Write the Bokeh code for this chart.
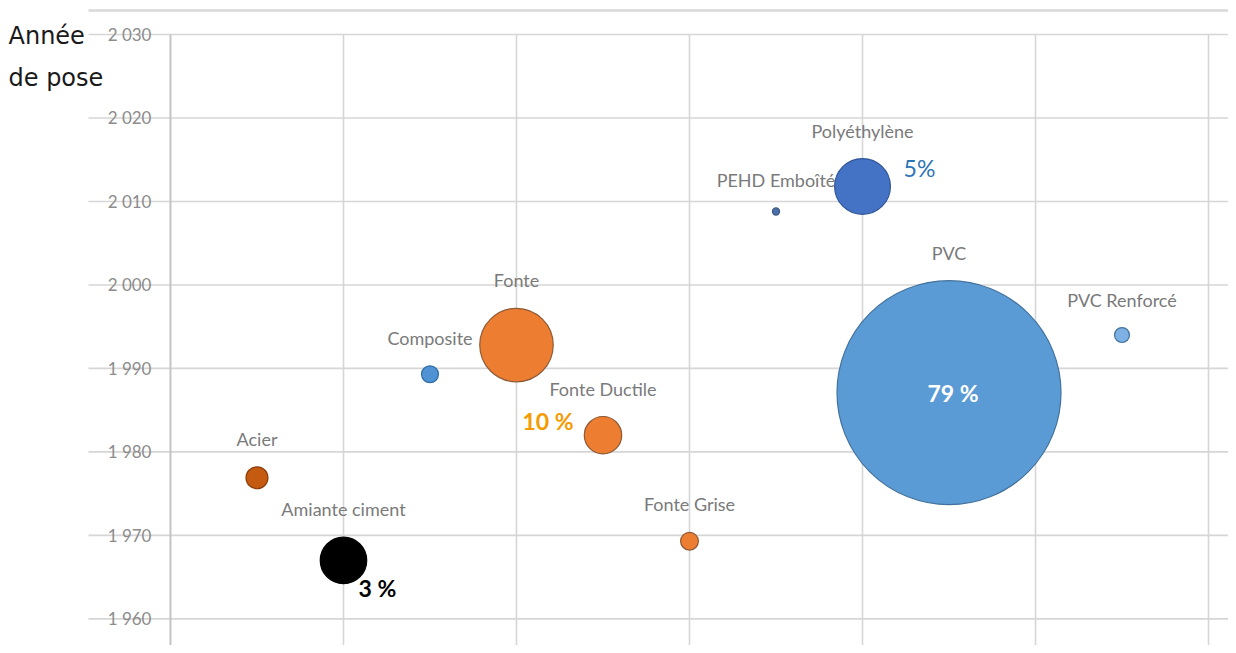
import math
from bokeh.plotting import figure
from bokeh.models import ColumnDataSource, Range1d
from bokeh.core.properties import value
from bokeh.embed import file_html
from bokeh.resources import INLINE

# ---------------- data ----------------
materials = ["Acier", "Amiante ciment", "Composite", "Fonte", "Fonte Ductile",
             "Fonte Grise", "PEHD Emboîté", "Polyéthylène", "PVC", "PVC Renforcé"]
x_index = [1, 2, 3, 4, 5, 6, 7, 8, 9, 11]
pose_year = [1976.9, 1967.0, 1989.3, 1992.8, 1982.0, 1969.3, 2008.8, 2011.8, 1987.1, 1994.0]
length_share = [0.76, 3.4, 0.45, 8.5, 2.2, 0.5, 0.08, 4.9, 79.0, 0.35]   # % of network length

y_ticks = [1960, 1970, 1980, 1990, 2000, 2010, 2020, 2030]
y_tick_labels = ["1 960", "1 970", "1 980", "1 990", "2 000", "2 010", "2 020", "2 030"]
x_grid = [0, 2, 4, 6, 8, 10, 12]

annot_material = ["PVC", "Fonte Ductile", "Amiante ciment", "Polyéthylène"]
annot_text = ["79 %", "10 %", "3 %", "5%"]

title_lines = ["Année", "de pose"]

# ---------------- styles ----------------
fill_colors = ["#C55A11", "#000000", "#4F93D5", "#ED7D31", "#ED7D31",
               "#ED7D31", "#4D6FA8", "#4472C4", "#5B9BD5", "#7DB0E3"]
line_colors = ["#8B3E0B", "#000000", "#2E6DA4", "#8E5A36", "#8E5A36",
               "#8E5A36", "#3A5685", "#2F5597", "#41719C", "#41719C"]
annot_colors = ["#FFFFFF", "#F59B00", "#000000", "#2E75B6"]
annot_styles = ["bold", "bold", "bold", "normal"]
annot_dx = [4, -55, 34, 57]
annot_dy = [0, -14, 28, -18]

X0, X1 = -1.965, 12.231
Y0, Y1 = 1956.81, 2034.07
GRID_LEFT = -0.948
TOP_LINE = 2032.87

MAX_R = 112.0
radius_px = [MAX_R * math.sqrt(s / max(length_share)) for s in length_share]

src = ColumnDataSource(dict(
    x=x_index, y=pose_year, name=materials,
    size=[2 * r for r in radius_px],
    fill=fill_colors, line=line_colors,
    label_dy=[-(r + 28) for r in radius_px],
))

idx = [materials.index(m) for m in annot_material]
asrc = ColumnDataSource(dict(
    x=[x_index[i] for i in idx], y=[pose_year[i] for i in idx],
    text=annot_text, color=annot_colors, style=annot_styles,
    dx=annot_dx, dy=annot_dy,
))

p = figure(width=1228, height=645, output_backend="svg", toolbar_location=None,
           x_range=Range1d(X0, X1), y_range=Range1d(Y0, Y1),
           x_axis_location=None, y_axis_location=None,
           min_border_left=0, min_border_right=0, min_border_top=0, min_border_bottom=0,
           background_fill_color="white", border_fill_color="white")
p.outline_line_color = None
p.xgrid.visible = False
p.ygrid.visible = False

# grid lines (horizontal start left of the value axis, vertical start at top tick)
p.segment(x0=[GRID_LEFT] * len(y_ticks), x1=[X1] * len(y_ticks), y0=y_ticks, y1=y_ticks,
          line_color="#d6d6d6", line_width=1.6)
p.segment(x0=x_grid[1:], x1=x_grid[1:], y0=[Y0] * (len(x_grid) - 1),
          y1=[max(y_ticks)] * (len(x_grid) - 1), line_color="#d6d6d6", line_width=1.6)
p.segment(x0=[0], x1=[0], y0=[Y0], y1=[max(y_ticks)], line_color="#c4c4c4", line_width=2)
p.segment(x0=[GRID_LEFT], x1=[X1], y0=[TOP_LINE], y1=[TOP_LINE],
          line_color="#d9d9d9", line_width=2.5)

# y tick labels
tsrc = ColumnDataSource(dict(x=[0] * len(y_ticks), y=y_ticks, t=y_tick_labels))
p.text(x="x", y="y", text="t", source=tsrc, x_offset=-19, text_align="right",
       text_baseline="middle", text_font=value("Lato"), text_font_size="17px",
       text_color="#8c8c8c")

# bubbles
p.scatter(x="x", y="y", size="size", source=src, fill_color="fill",
          line_color="line", line_width=1.2)

# bubble labels
p.text(x="x", y="y", text="name", source=src, y_offset="label_dy",
       text_align="center", text_baseline="middle", text_font=value("Lato"),
       text_font_size="18px", text_color="#7a7a7a")

# share annotations
p.text(x="x", y="y", text="text", source=asrc, x_offset="dx", y_offset="dy",
       text_align="center", text_baseline="middle", text_font=value("Lato"),
       text_font_size="23px", text_color="color", text_font_style="style")

# axis title (two lines)
ttl = ColumnDataSource(dict(x=[X0, X0], y=[max(y_ticks), max(y_ticks)], t=title_lines,
                            dy=[2, 44]))
p.text(x="x", y="y", text="t", source=ttl, x_offset=8, y_offset="dy",
       text_align="left", text_baseline="middle", text_font=value("DejaVu Sans"),
       text_font_size="24px", text_color="#1a1a1a")

open("out.html", "w").write(file_html(p, INLINE))
